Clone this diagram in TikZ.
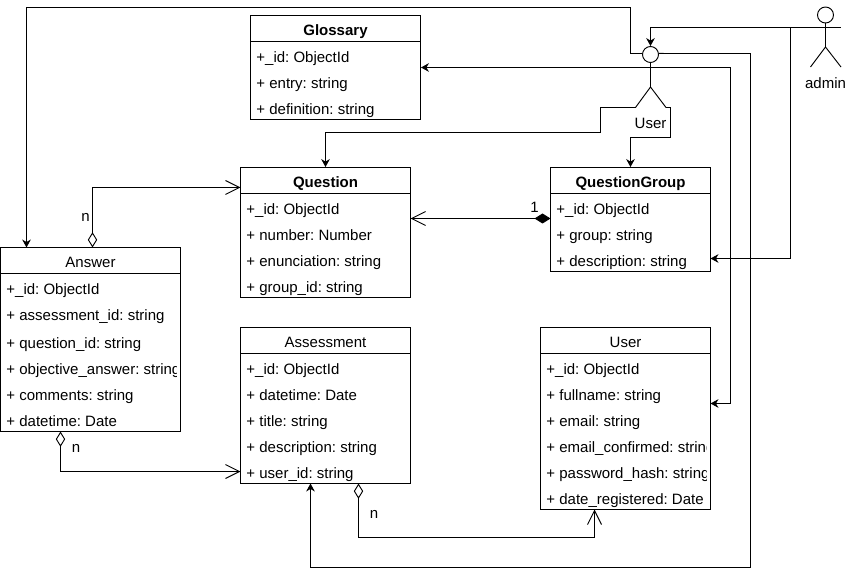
\documentclass[tikz,border=0pt]{standalone}
\usepackage{fontspec}
\setmainfont{Liberation Sans}
\usetikzlibrary{arrows.meta}
\frenchspacing
\tikzset{
  classbox/.style 2 args={draw,rectangle,inner sep=0pt,minimum width=#1*.75pt,minimum height=#2*.75pt},
  classhead/.style={inner sep=0pt,text height=8.2pt,text depth=0pt,yshift=-.75pt,font=\fontsize{11.25pt}{13pt}\selectfont},
  classrow/.style={anchor=west,inner sep=0pt,text height=8.2pt,text depth=2.4pt,yshift=-1.5pt,font=\fontsize{11.25pt}{13pt}\selectfont},
  plain/.style={inner sep=0pt,text height=8.2pt,text depth=0pt,font=\fontsize{11.25pt}{13pt}\selectfont},
  link/.style={-{Stealth[length=6pt,width=6.5pt]}},
  has/.style={{Diamond[open,length=11.5pt,width=7pt]}-{Straight Barb[length=10.5pt,width=10.5pt]}},
  owns/.style={{Straight Barb[length=10.5pt,width=10.5pt]}-{Diamond[length=12pt,width=7.5pt]}},
}
\begin{document}
\begin{tikzpicture}[x=.75pt,y=-.75pt,line width=.7pt]
\useasboundingbox (0,0) rectangle (846,577);

% Glossary
\node[classbox={170}{104}] (glossary) at (335.5,67.5) {};
\node[classhead] (glossary_head) at (335.5,29) {\textbf{Glossary}};
\draw (250.5,41.5) -- (420.5,41.5);
\node[classrow] (glossary_id) at (256,57) {+\_id: ObjectId};
\node[classrow] (glossary_entry) at (256,83) {+ entry: string};
\node[classrow] (glossary_def) at (256,109) {+ definition: string};

% Question
\node[classbox={170}{130}] (question) at (325.5,232.5) {};
\node[classhead] (question_head) at (325.5,181) {\textbf{Question}};
\draw (240.5,193.5) -- (410.5,193.5);
\node[classrow] (question_id) at (246,209) {+\_id: ObjectId};
\node[classrow] (question_number) at (246,235) {+ number: Number};
\node[classrow] (question_enun) at (246,261) {+ enunciation: string};
\node[classrow] (question_group) at (246,287) {+ group\_id: string};

% QuestionGroup
\node[classbox={160}{104}] (qgroup) at (630.5,219.5) {};
\node[classhead] (qgroup_head) at (630.5,181) {\textbf{QuestionGroup}};
\draw (550.5,193.5) -- (710.5,193.5);
\node[classrow] (qgroup_id) at (556,209) {+\_id: ObjectId};
\node[classrow] (qgroup_group) at (556,235) {+ group: string};
\node[classrow] (qgroup_desc) at (556,261) {+ description: string};

% Answer
\node[classbox={180}{184}] (answer) at (90.5,339.5) {};
\node[classhead] (answer_head) at (90.5,261) {Answer};
\draw (.5,273.5) -- (180.5,273.5);
\node[classrow] (answer_id) at (6,289) {+\_id: ObjectId};
\node[classrow] (answer_assessment) at (6,315) {+ assessment\_id: string};
\node[classrow] (answer_question) at (6,343) {+ question\_id: string};
\begin{scope}
  \clip (0,350) rectangle (176.8,385);
  \node[classrow] (answer_objective) at (6,369) {+ objective\_answer: string};
\end{scope}
\node[classrow] (answer_comments) at (6,395) {+ comments: string};
\node[classrow] (answer_datetime) at (6,421) {+ datetime: Date};

% Assessment
\node[classbox={170}{156}] (assessment) at (325.5,405.5) {};
\node[classhead] (assessment_head) at (325.5,341) {Assessment};
\draw (240.5,353.5) -- (410.5,353.5);
\node[classrow] (assessment_id) at (246,369) {+\_id: ObjectId};
\node[classrow] (assessment_datetime) at (246,395) {+ datetime: Date};
\node[classrow] (assessment_title) at (246,421) {+ title: string};
\node[classrow] (assessment_desc) at (246,447) {+ description: string};
\node[classrow] (assessment_user) at (246,473) {+ user\_id: string};

% User
\node[classbox={170}{182}] (userbox) at (625.5,418.5) {};
\node[classhead] (userbox_head) at (625.5,341) {User};
\draw (540.5,353.5) -- (710.5,353.5);
\node[classrow] (userbox_id) at (546,369) {+\_id: ObjectId};
\node[classrow] (userbox_fullname) at (546,395) {+ fullname: string};
\node[classrow] (userbox_email) at (546,421) {+ email: string};
\begin{scope}
  \clip (540,435) rectangle (706.7,490);
  \node[classrow] (userbox_confirmed) at (546,447) {+ email\_confirmed: string};
  \node[classrow] (userbox_hash) at (546,473) {+ password\_hash: string};
\end{scope}
\node[classrow] (userbox_date) at (546,499) {+ date\_registered: Date};

% actors
\node[draw,circle,inner sep=0pt,minimum size=12pt] (user_head) at (650.5,54.5) {};
\coordinate (user_hip) at (650.5,87);
\coordinate (user_lfoot) at (635.5,107.5);
\coordinate (user_rfoot) at (666,107.5);
\coordinate (user_larm) at (635.5,67.5);
\coordinate (user_rarm) at (666,67.5);
\draw (user_head.south) -- (user_hip);
\draw (user_lfoot) -- (user_hip) -- (user_rfoot);
\draw (user_larm) -- (user_rarm);
\node[plain] (user_label) at (650.5,123) {User};

\node[draw,circle,inner sep=0pt,minimum size=12pt] (admin_head) at (825.5,15) {};
\coordinate (admin_hip) at (825.5,47);
\coordinate (admin_lfoot) at (810.5,67);
\coordinate (admin_rfoot) at (841,67);
\coordinate (admin_larm) at (810.5,27.5);
\coordinate (admin_rarm) at (841,27.5);
\draw (admin_head.south) -- (admin_hip);
\draw (admin_lfoot) -- (admin_hip) -- (admin_rfoot);
\draw (admin_larm) -- (admin_rarm);
\node[plain] (admin_label) at (825.5,83) {admin};

% links of the actors
\coordinate (answer_in) at (26.5,247.5);
\coordinate (assessment_in) at (310.5,483.5);
\coordinate (qgroup_in) at (710.5,258.5);
\coordinate (userbox_in) at (710.5,403.5);
\coordinate (admin_split) at (790.5,27.5);

\draw[link] (user_head.173) -- (630.5,53.5) -- (630.5,7.5) -- (26.5,7.5) -- (answer_in);
\draw[link] (user_head.7) -- (750.5,53.5) -- (750.5,567.5) -- (310.5,567.5) -- (assessment_in);
\draw[link] (user_larm) -- (glossary.east);
\draw[link] (user_rarm) -- (730.5,67.5) -- (730.5,403.5) -- (userbox_in);
\draw[link] (user_lfoot) -- (600.5,107.5) -- (600.5,132.5) -- (325.5,132.5) -- (question.north);
\draw[link] (user_rfoot) -- (670.5,107.5) -- (670.5,137.5) -- (630.5,137.5) -- (qgroup.north);
\draw[link] (admin_larm) -- (650.5,27.5) -- (user_head.north);
\draw[link] (admin_split) -- (790.5,258.5) -- (qgroup_in);

% relations
\coordinate (answer_top) at (92.5,247.5);
\coordinate (question_in) at (240.5,187.5);
\draw[has] (answer_top) -- (92.5,187.5) -- (question_in);
\node[plain] (answer_n) at (85.5,216) {n};

\coordinate (question_right) at (410.5,218.5);
\coordinate (qgroup_left) at (550.5,218.5);
\draw[owns] (question_right) -- (qgroup_left);
\node[plain] (qgroup_one) at (534.5,207) {1};

\coordinate (answer_bottom) at (60.5,431.5);
\coordinate (assessment_left) at (240.5,471.5);
\draw[has] (answer_bottom) -- (60.5,471.5) -- (assessment_left);
\node[plain] (assessment_n) at (76,447) {n};

\coordinate (assessment_bottom) at (358.5,483.5);
\coordinate (userbox_bottom) at (594.5,509.5);
\draw[has] (assessment_bottom) -- (358.5,537.5) -- (594.5,537.5) -- (userbox_bottom);
\node[plain] (userbox_n) at (374,513) {n};
\end{tikzpicture}
\end{document}
